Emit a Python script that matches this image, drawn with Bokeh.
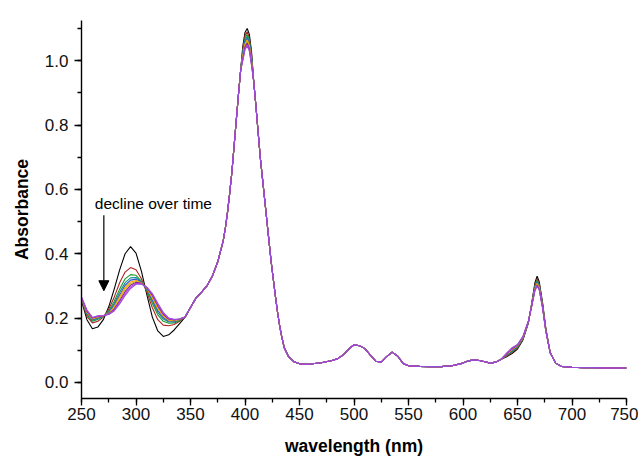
from bokeh.plotting import figure
from bokeh.models import Range1d, SingleIntervalTicker, Label, Arrow, NormalHead, CustomJSTickFormatter
from bokeh.embed import file_html
from bokeh.resources import INLINE

# ---------------- data ----------------
wl_uv = [250, 255, 260, 265, 270, 275, 280, 285, 290, 295, 300,
         305, 310, 315, 320, 325, 330, 335, 340, 345, 350]
uv_abs = [
    [0.254, 0.195, 0.167, 0.172, 0.195, 0.235, 0.290, 0.350, 0.400, 0.422, 0.402, 0.345, 0.272, 0.203, 0.160, 0.143, 0.148, 0.163, 0.183, 0.203, 0.233],
    [0.256, 0.205, 0.185, 0.190, 0.203, 0.228, 0.265, 0.310, 0.343, 0.357, 0.350, 0.322, 0.280, 0.232, 0.195, 0.178, 0.176, 0.180, 0.190, 0.203, 0.233],
    [0.258, 0.210, 0.190, 0.196, 0.205, 0.222, 0.252, 0.290, 0.322, 0.335, 0.333, 0.315, 0.285, 0.245, 0.210, 0.190, 0.184, 0.185, 0.192, 0.203, 0.233],
    [0.259, 0.213, 0.193, 0.199, 0.206, 0.219, 0.245, 0.280, 0.310, 0.325, 0.326, 0.312, 0.288, 0.252, 0.218, 0.197, 0.188, 0.188, 0.194, 0.203, 0.233],
    [0.260, 0.215, 0.195, 0.201, 0.206, 0.217, 0.240, 0.272, 0.302, 0.318, 0.321, 0.311, 0.290, 0.257, 0.224, 0.202, 0.191, 0.190, 0.195, 0.203, 0.233],
    [0.261, 0.217, 0.197, 0.203, 0.207, 0.215, 0.236, 0.266, 0.295, 0.312, 0.317, 0.310, 0.292, 0.262, 0.229, 0.206, 0.193, 0.192, 0.196, 0.203, 0.233],
    [0.262, 0.219, 0.199, 0.204, 0.207, 0.214, 0.232, 0.260, 0.289, 0.307, 0.314, 0.309, 0.293, 0.266, 0.234, 0.209, 0.195, 0.193, 0.196, 0.203, 0.233],
    [0.263, 0.221, 0.200, 0.205, 0.207, 0.213, 0.228, 0.254, 0.282, 0.302, 0.311, 0.308, 0.294, 0.270, 0.238, 0.212, 0.197, 0.194, 0.197, 0.203, 0.233],
    [0.264, 0.223, 0.201, 0.206, 0.208, 0.212, 0.225, 0.249, 0.276, 0.297, 0.308, 0.307, 0.295, 0.273, 0.242, 0.215, 0.199, 0.195, 0.197, 0.203, 0.233],
    [0.265, 0.225, 0.202, 0.207, 0.208, 0.211, 0.222, 0.244, 0.270, 0.292, 0.305, 0.306, 0.296, 0.276, 0.246, 0.218, 0.200, 0.196, 0.197, 0.203, 0.233],
]

wl_rise = [355, 360, 365, 370, 375, 380, 382, 384, 386, 388, 390, 392, 394, 396]
abs_rise = [0.262, 0.280, 0.300, 0.330, 0.375, 0.440, 0.480, 0.530, 0.590, 0.655, 0.735, 0.815, 0.895, 0.970]

wl_soret = [398, 400, 402, 404, 406]
soret_abs = [
    [1.045, 1.088, 1.100, 1.082, 1.028],
    [1.036, 1.078, 1.090, 1.072, 1.020],
    [1.030, 1.070, 1.082, 1.065, 1.014],
    [1.025, 1.064, 1.076, 1.059, 1.009],
    [1.020, 1.058, 1.070, 1.053, 1.004],
    [1.016, 1.053, 1.065, 1.048, 1.000],
    [1.011, 1.048, 1.060, 1.043, 0.996],
    [1.007, 1.043, 1.055, 1.038, 0.992],
    [1.003, 1.038, 1.050, 1.034, 0.988],
    [1.000, 1.034, 1.046, 1.030, 0.985],
]

wl_mid = [408, 410, 412, 414, 416, 418, 420, 422, 424, 426, 428, 430, 432, 434, 436,
          440, 445, 450, 455, 460, 470, 480, 485, 490, 495, 500, 505, 510, 515, 520,
          525, 530, 535, 540, 545, 550, 560, 570, 580, 590, 600, 605, 610, 615, 620,
          625, 630, 635]
abs_mid = [0.935, 0.860, 0.780, 0.700, 0.635, 0.570, 0.505, 0.440, 0.375, 0.320, 0.265, 0.215, 0.172, 0.137, 0.108,
           0.080, 0.064, 0.058, 0.056, 0.057, 0.061, 0.068, 0.074, 0.085, 0.103, 0.117, 0.114, 0.105, 0.085, 0.066,
           0.063, 0.080, 0.094, 0.082, 0.059, 0.052, 0.050, 0.049, 0.049, 0.052, 0.060, 0.067, 0.070, 0.068, 0.064,
           0.060, 0.063, 0.072]

wl_q = [640, 645, 650, 655, 660, 663, 666, 668, 670, 673, 676]
q_abs = [
    [0.080, 0.090, 0.104, 0.132, 0.185, 0.245, 0.310, 0.330, 0.312, 0.248, 0.168],
    [0.082, 0.093, 0.107, 0.134, 0.186, 0.243, 0.303, 0.322, 0.305, 0.243, 0.165],
    [0.084, 0.095, 0.109, 0.136, 0.187, 0.242, 0.300, 0.318, 0.302, 0.241, 0.164],
    [0.085, 0.097, 0.111, 0.137, 0.188, 0.241, 0.297, 0.314, 0.299, 0.239, 0.163],
    [0.086, 0.099, 0.113, 0.138, 0.188, 0.240, 0.295, 0.311, 0.296, 0.237, 0.162],
    [0.087, 0.101, 0.114, 0.139, 0.189, 0.239, 0.292, 0.308, 0.294, 0.236, 0.161],
    [0.088, 0.102, 0.115, 0.140, 0.189, 0.238, 0.290, 0.305, 0.291, 0.234, 0.160],
    [0.089, 0.104, 0.116, 0.141, 0.190, 0.237, 0.288, 0.303, 0.289, 0.233, 0.160],
    [0.090, 0.106, 0.117, 0.142, 0.190, 0.237, 0.286, 0.301, 0.288, 0.232, 0.159],
    [0.091, 0.108, 0.118, 0.143, 0.191, 0.236, 0.285, 0.300, 0.287, 0.231, 0.159],
]

wl_tail = [680, 685, 690, 700, 710, 720, 730, 740, 750]
abs_tail = [0.092, 0.060, 0.050, 0.047, 0.046, 0.046, 0.045, 0.045, 0.045]

colors = ["#000000", "#B22222", "#1F9A2A", "#10908F", "#2F4FD0",
          "#FF9A00", "#CDBB00", "#7A1FA8", "#D030D0", "#9450D8"]

annotation_text = "decline over time"
x_ticks_interval = 50
y_ticks_interval = 0.2

# ---------------- figure ----------------
p = figure(width=638, height=458, output_backend="svg", toolbar_location=None,
           x_range=Range1d(250, 750), y_range=Range1d(-0.05, 1.125),
           min_border_left=81, min_border_right=12, min_border_top=20, min_border_bottom=60)
p.outline_line_color = None
p.xgrid.visible = False
p.ygrid.visible = False
p.background_fill_color = "white"
p.border_fill_color = "white"

wl_all = wl_uv + wl_rise + wl_soret + wl_mid + wl_q + wl_tail
for i in range(len(colors)):
    ys = uv_abs[i] + abs_rise + soret_abs[i] + abs_mid + q_abs[i] + abs_tail
    p.line(wl_all, ys, line_color=colors[i], line_width=1.1)

font = "Liberation Sans"
p.xaxis.ticker = SingleIntervalTicker(interval=x_ticks_interval, num_minor_ticks=2)
p.yaxis.ticker = SingleIntervalTicker(interval=y_ticks_interval, num_minor_ticks=2)
p.yaxis.formatter = CustomJSTickFormatter(code="return tick.toFixed(1);")
for ax in (p.xaxis[0], p.yaxis[0]):
    ax.axis_line_color = "black"
    ax.axis_line_width = 1.4
    ax.major_tick_line_color = "black"
    ax.minor_tick_line_color = "black"
    ax.major_tick_line_width = 1.3
    ax.minor_tick_line_width = 1.3
    ax.major_tick_in = 0
    ax.major_tick_out = 7
    ax.minor_tick_in = 0
    ax.minor_tick_out = 4
    ax.major_label_text_font = font
    ax.major_label_text_font_size = "17px"
    ax.major_label_text_color = "#111111"
    ax.axis_label_text_font = font
    ax.axis_label_text_font_size = "17.5px"
    ax.axis_label_text_font_style = "bold"
    ax.axis_label_text_color = "black"
p.xaxis.axis_label = "wavelength (nm)"
p.yaxis.axis_label = "Absorbance"
p.xaxis.major_label_standoff = 2
p.yaxis.major_label_standoff = 6
p.xaxis.axis_label_standoff = 13
p.yaxis.axis_label_standoff = 10

lab = Label(x=262.2, y=0.555, text=annotation_text, text_font=font,
            text_font_size="15.5px", text_baseline="middle", text_color="black")
p.add_layout(lab)
arr = Arrow(end=NormalHead(size=10, fill_color="black", line_color="black"),
            x_start=270.5, y_start=0.52, x_end=270.5, y_end=0.285,
            line_color="black", line_width=1.2)
p.add_layout(arr)

open("out.html", "w").write(file_html(p, INLINE))
